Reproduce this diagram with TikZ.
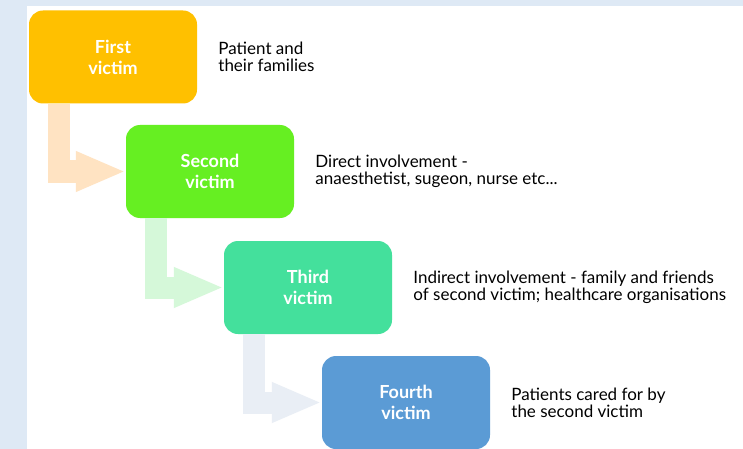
\documentclass[tikz,border=0pt]{standalone}
\usepackage{fontspec}
\setmainfont{Lato}
\usetikzlibrary{positioning,arrows.meta}
\definecolor{PageBlue}{HTML}{DEE9F5}
\definecolor{FirstOrange}{HTML}{FFC000}
\definecolor{SecondGreen}{HTML}{66EF22}
\definecolor{ThirdTeal}{HTML}{44E09C}
\definecolor{FourthBlue}{HTML}{5B9BD5}
\definecolor{FirstPeach}{HTML}{FFE3C2}
\definecolor{SecondMint}{HTML}{D5F8D9}
\definecolor{ThirdMist}{HTML}{E9EEF5}

\begin{document}
\begin{tikzpicture}[
      x=1pt, y=-1pt,
      node distance=21pt,
      victim/.style={
        rounded corners=14pt, minimum width=168pt, minimum height=93pt,
        inner sep=0pt, align=center, text=white,
        font=\fontsize{18}{21}\selectfont\bfseries
      },
      who/.style={
        align=left, inner sep=0pt, font=\fontsize{17}{17}\selectfont
      },
      flow/.style={line width=22pt, -{Triangle[length=50pt,width=37pt]}}
    ]
      \useasboundingbox (0,0) rectangle (743,449);
      \fill[PageBlue] (0,0) rectangle (743,449);
      \fill[white] (27,6) rectangle (743,449);

      \node[victim, fill=FirstOrange] (first)  at (113,57)    {First\\victim};
      \node[victim, fill=SecondGreen] (second) at (210,171.5) {Second\\victim};
      \node[victim, fill=ThirdTeal]   (third)  at (308,287.5) {Third\\victim};
      \node[victim, fill=FourthBlue]  (fourth) at (406,402.5) {Fourth\\victim};

      \node[who, right=of first]  (firstnote)  {Patient and\\their families};
      \node[who, right=of second] (secondnote) {Direct involvement -\\anaesthetist, sugeon, nurse etc...};
      \node[who, right=of third]  (thirdnote)
        {Indirect involvement - family and friends\\of second victim; healthcare organisations};
      \node[who, right=of fourth] (fourthnote) {Patients cared for by\\the second victim};

      \draw[flow, FirstPeach]  ([xshift=30pt]first.south west)  |- (second.west);
      \draw[flow, SecondMint]  ([xshift=30pt]second.south west) |- (third.west);
      \draw[flow, ThirdMist]   ([xshift=30pt]third.south west)  |- (fourth.west);
    \end{tikzpicture}
\end{document}
